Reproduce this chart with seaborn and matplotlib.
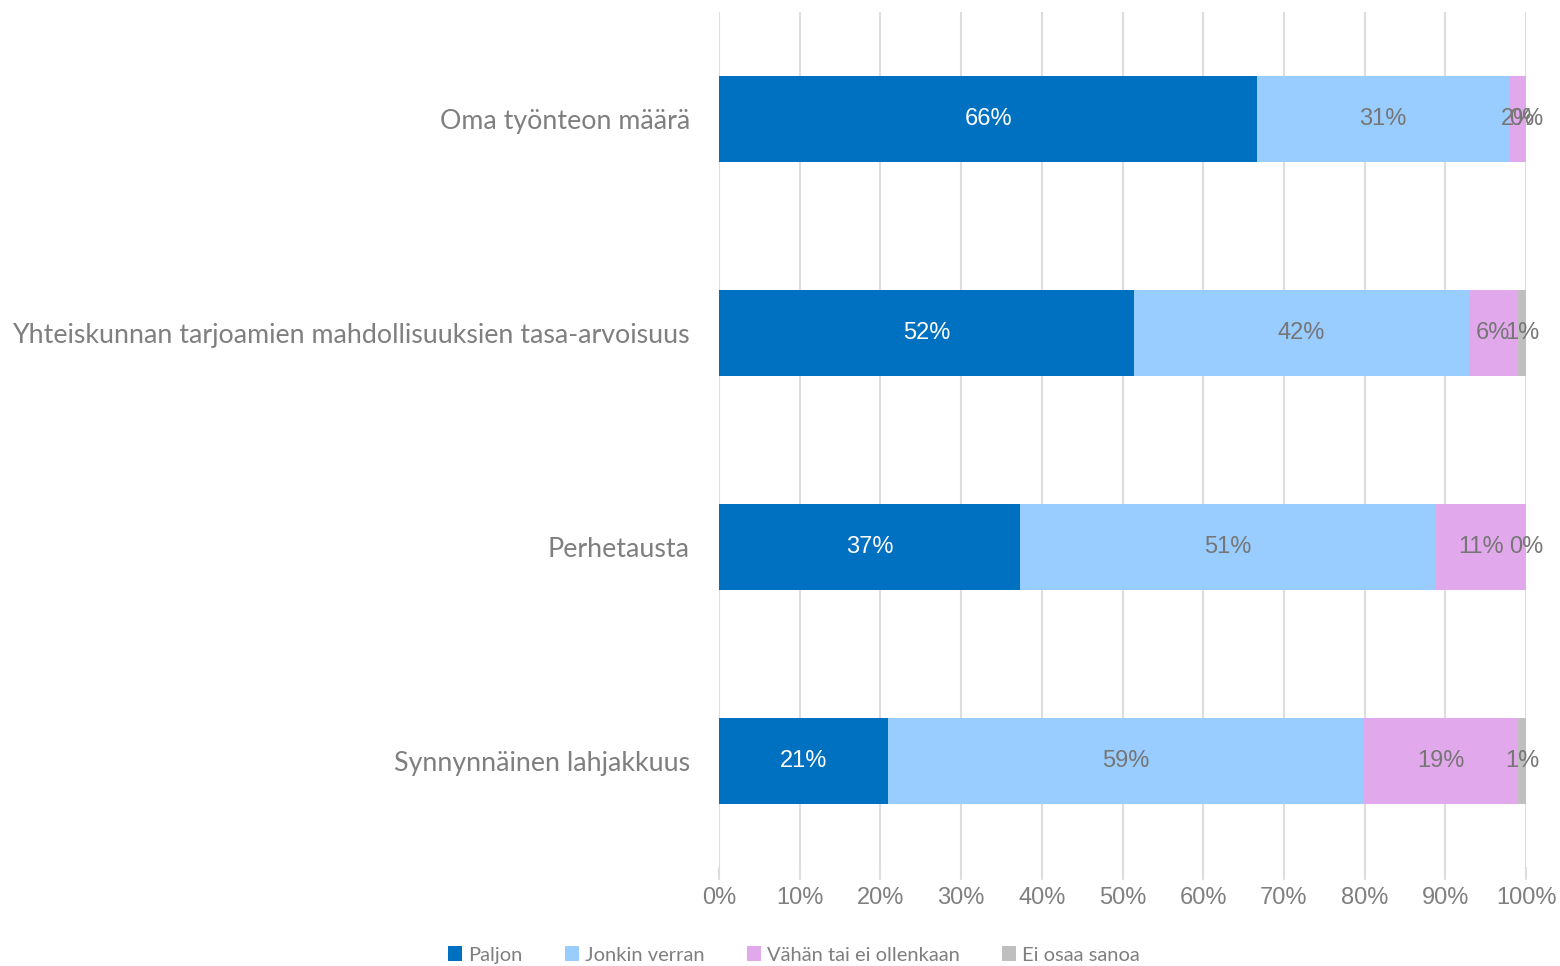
import matplotlib
matplotlib.use("Agg")
import matplotlib.pyplot as plt
from matplotlib.patches import Patch
import seaborn as sns
import pandas as pd
import numpy as np

categories = [
    "Oma työnteon määrä",
    "Yhteiskunnan tarjoamien mahdollisuuksien tasa-arvoisuus",
    "Perhetausta",
    "Synnynnäinen lahjakkuus",
]
series = ["Paljon", "Jonkin verran", "Vähän tai ei ollenkaan", "Ei osaa sanoa"]
paljon = [66.7, 51.4, 37.3, 20.9]
jonkin = [31.2, 41.5, 51.5, 59.0]
vahan = [2.1, 6.1, 11.2, 19.1]
ei_osaa = [0.0, 1.0, 0.0, 1.0]
labels = [
    ["66%", "31%", "2%", "0%"],
    ["52%", "42%", "6%", "1%"],
    ["37%", "51%", "11%", "0%"],
    ["21%", "59%", "19%", "1%"],
]
colors = ["#0070C0", "#99CCFF", "#E1A9EB", "#BFBFBF"]
label_colors = ["white", "#767676", "#767676", "#767676"]

sns.set_style("white")
plt.rcParams["font.family"] = ["Liberation Sans", "DejaVu Sans"]

df = pd.DataFrame({"cat": categories, series[0]: paljon, series[1]: jonkin,
                   series[2]: vahan, series[3]: ei_osaa})
cum = df[series].cumsum(axis=1)

fig = plt.figure(figsize=(15.6, 9.66), dpi=100)
ax = fig.add_axes([719 / 1560, 1 - 868 / 966, (1526 - 719) / 1560, (868 - 12) / 966])

# draw cumulative totals from the last series back to the first
for i in range(len(series) - 1, -1, -1):
    sns.barplot(x=cum[series[i]], y=df["cat"], color=colors[i], width=0.4,
                orient="h", ax=ax, saturation=1, linewidth=0)

ax.set_xlim(0, 100)
ax.set_ylim(3.5, -0.5)
ax.set_xticks(np.arange(0, 101, 10))
ax.set_xticklabels([f"{v}%" for v in range(0, 101, 10)], fontsize=17, color="#7F7F7F")
ax.tick_params(axis="x", length=0, pad=14)
ax.tick_params(axis="y", length=0, pad=21)
ax.set_yticklabels(categories, fontsize=19.3, color="#7F7F7F", family=["Lato", "DejaVu Sans"])
ax.set_xlabel("")
ax.set_ylabel("")
for s in ax.spines.values():
    s.set_visible(False)
ax.grid(axis="x", color="#DDDDDD", linewidth=1.5)
ax.set_axisbelow(True)

# extend grid lines slightly below the axis area like the original
for v in range(0, 101, 10):
    ax.plot([v, v], [3.5, 3.55], color="#DDDDDD", lw=1.5, clip_on=False, zorder=0)

for r in range(len(categories)):
    left = 0
    for i, s in enumerate(series):
        w = df.loc[r, s]
        ax.text(left + w / 2, r, labels[r][i], ha="center", va="center",
                fontsize=17, color=label_colors[i])
        left += w

handles = [Patch(facecolor=c, edgecolor="none") for c in colors]
fig.legend(handles, series, loc="center", bbox_to_anchor=(794 / 1560, 1 - 955 / 966),
           ncol=4, frameon=False, handlelength=0.7, handleheight=0.7,
           handletextpad=0.3, columnspacing=2.1, labelcolor="#7F7F7F",
           prop={"family": ["Lato", "DejaVu Sans"], "size": 14.5})

fig.savefig("out.png", dpi=100)
